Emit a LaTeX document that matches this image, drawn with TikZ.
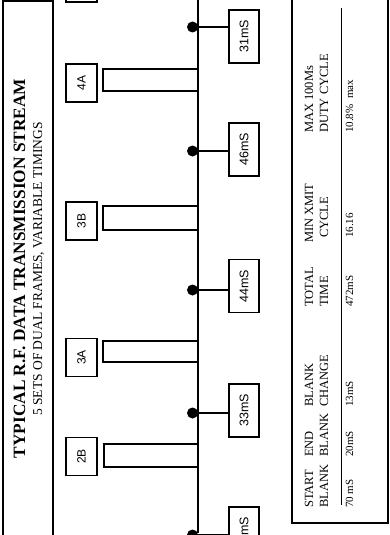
\documentclass[tikz,border=0pt]{standalone}
\usepackage{fontspec}
\setmainfont{Liberation Serif}
\setsansfont{Liberation Sans}
\begin{document}
\begin{tikzpicture}[x=1pt,y=-1pt,
  lbl/.style={draw, line width=1.2pt, rotate=90, font=\sffamily\fontsize{12}{14}\selectfont, minimum width=38pt, minimum height=31pt, inner sep=0pt},
  tbox/.style={draw, line width=1.4pt, rotate=90, font=\sffamily\fontsize{12.5}{14}\selectfont, minimum width=53pt, minimum height=30pt, inner sep=0pt},
  pulse/.style={line width=1.2pt},
  frame/.style={line width=1.3pt},
  link/.style={line width=1.4pt},
  dot/.style={circle, fill, inner sep=0pt, minimum size=11pt},
  hd/.style={rotate=90, anchor=base west, inner sep=0pt, font=\fontsize{12.5}{14}\selectfont},
  val/.style={rotate=90, anchor=base west, inner sep=0pt, font=\fontsize{11}{13}\selectfont}]
\useasboundingbox (0,0) rectangle (390,535);
\clip (0,0) rectangle (390,535);
\fill[white] (0,0) rectangle (390,535);
% title frame
\draw[frame] (3,560) -- (3,1) -- (53,1) -- (53,560);
\node[rotate=90, anchor=base, inner sep=0pt, font=\bfseries\fontsize{17.3}{20}\selectfont] (title) at (25,268.5) {TYPICAL R.F. DATA TRANSMISSION STREAM};
\node[rotate=90, anchor=base, inner sep=0pt, font=\fontsize{13.5}{16}\selectfont] (sub) at (42,269) {5 SETS OF DUAL FRAMES, VARIABLE TIMINGS};
% timeline
\coordinate (ttop) at (198,-5);
\coordinate (tbot) at (198,533);
\draw[line width=1.7pt] (ttop) -- (tbot);
% pulses
\draw[pulse] (198,69) -- (103,69) -- (103,91) -- (198,91);
\draw[pulse] (198,206) -- (103,206) -- (103,230) -- (198,230);
\draw[pulse] (198,341) -- (103,341) -- (103,362) -- (198,362);
\draw[pulse] (198,444) -- (104,444) -- (104,467) -- (198,467);
% frame labels
\node[lbl] (ltop) at (81.5,-17) {};
\node[lbl] (l4A) at (81.5,83) {4A};
\node[lbl] (l3B) at (81.5,221) {3B};
\node[lbl] (l3A) at (81.5,357.5) {3A};
\node[lbl] (l2B) at (81.5,456.5) {2B};
% dots
\node[dot] (d1) at (192.5,27) {};
\node[dot] (d2) at (192.5,151) {};
\node[dot] (d3) at (192.5,290) {};
\node[dot] (d4) at (192.5,413) {};
\node[dot] (d5) at (192.5,535) {};
% timing boxes
\node[tbox] (b31) at (244,36.5) {31mS};
\node[tbox] (b46) at (244,149.5) {46mS};
\node[tbox] (b44) at (244,286) {44mS};
\node[tbox] (b33) at (244,410.5) {33mS};
\node[tbox] (b5) at (244,533.5) {};
\node[rotate=90, anchor=east, inner sep=0pt, font=\sffamily\fontsize{12.5}{14}\selectfont] (b5t) at (244,517) {mS};
\draw[link] (d1.center) -- (d1.center -| b31.north);
\draw[link] (d2.center) -- (d2.center -| b46.north);
\draw[link] (d3.center) -- (d3.center -| b44.north);
\draw[link] (d4.center) -- (d4.center -| b33.north);
\draw[link] (d5.center) -- (d5.center -| b5.north);
% table
\draw[frame] (292,-10) -- (292,523) -- (388,523) -- (388,-10);
\draw[line width=0.6pt] (341,8) -- (341,505);
\node[hd] (h1a) at (313,508) {START};
\node[hd] (h1b) at (328,508) {BLANK};
\node[val] (v1) at (353,508) {70 mS};
\node[hd] (h2a) at (313,457) {END};
\node[hd] (h2b) at (328,457) {BLANK};
\node[val] (v2) at (353,457) {20mS};
\node[hd] (h3a) at (313,407) {BLANK};
\node[hd] (h3b) at (328,407) {CHANGE};
\node[val] (v3) at (353,407) {13mS};
\node[hd] (h4a) at (313,307) {TOTAL};
\node[hd] (h4b) at (328,307) {TIME};
\node[val] (v4) at (353,307) {472mS};
\node[hd] (h5a) at (313,243) {MIN XMIT};
\node[hd] (h5b) at (328,238) {CYCLE};
\node[val] (v5) at (353,238) {16.16};
\node[hd] (h6a) at (313,133) {MAX 100Ms};
\node[hd] (h6b) at (328,133) {DUTY CYCLE};
\node[val] (v6) at (353,133) {10.8\%\ \ max};
\end{tikzpicture}
\end{document}
